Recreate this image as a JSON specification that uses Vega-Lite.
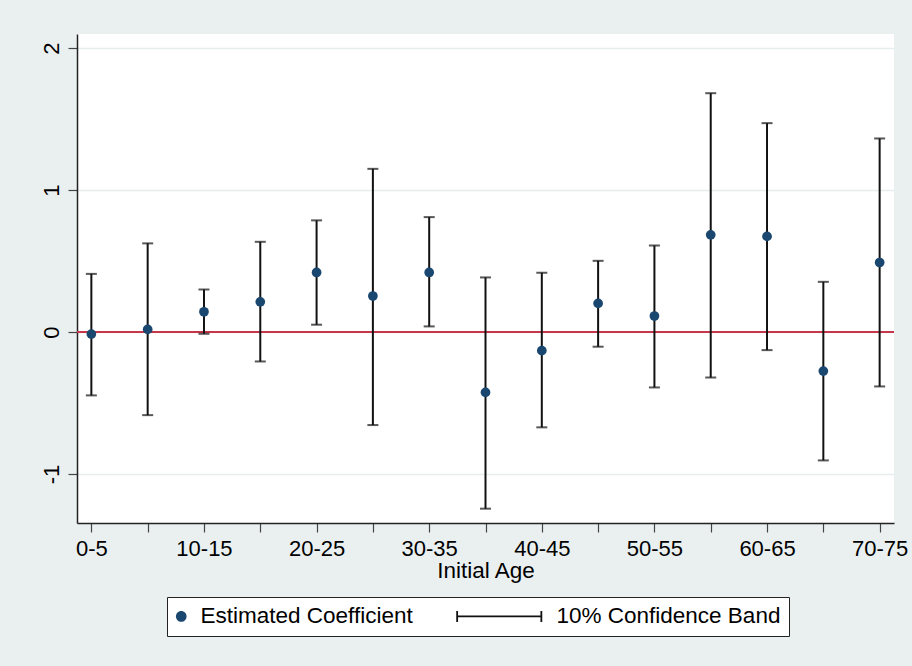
{
  "$schema": "https://vega.github.io/schema/vega-lite/v6.json",
  "width": 817,
  "height": 489,
  "autosize": {"type": "none"},
  "padding": {"left": 77, "top": 34, "right": 18, "bottom": 143},
  "background": "#EAF0F0",
  "config": {
    "view": {"fill": "white", "stroke": null},
    "font": "Liberation Sans"
  },
  "data": {
    "values": [
      {"age": "0-5", "est": -0.014, "lo": -0.446, "hi": 0.41},
      {"age": "5-10", "est": 0.019, "lo": -0.585, "hi": 0.625},
      {"age": "10-15", "est": 0.143, "lo": -0.012, "hi": 0.3},
      {"age": "15-20", "est": 0.213, "lo": -0.207, "hi": 0.636},
      {"age": "20-25", "est": 0.42, "lo": 0.052, "hi": 0.787},
      {"age": "25-30", "est": 0.254, "lo": -0.655, "hi": 1.15},
      {"age": "30-35", "est": 0.42, "lo": 0.04, "hi": 0.81},
      {"age": "35-40", "est": -0.425, "lo": -1.244, "hi": 0.385},
      {"age": "40-45", "est": -0.131, "lo": -0.671, "hi": 0.418},
      {"age": "45-50", "est": 0.202, "lo": -0.103, "hi": 0.502},
      {"age": "50-55", "est": 0.113, "lo": -0.39, "hi": 0.61},
      {"age": "55-60", "est": 0.685, "lo": -0.32, "hi": 1.683},
      {"age": "60-65", "est": 0.674, "lo": -0.127, "hi": 1.472},
      {"age": "65-70", "est": -0.275, "lo": -0.904, "hi": 0.354},
      {"age": "70-75", "est": 0.49, "lo": -0.383, "hi": 1.364}
    ]
  },
  "layer": [
    {
      "mark": {"type": "rule", "color": "#C8364B", "strokeWidth": 2},
      "encoding": {
        "y": {
          "datum": 0, "type": "quantitative",
          "scale": {"domain": [-1.345, 2.1], "nice": false, "zero": false},
          "axis": {
            "title": null, "values": [-1, 0, 1, 2], "grid": true,
            "labelExpr": "'' + datum.value",
            "gridColor": "#E6EDED", "gridWidth": 1.5,
            "domainColor": "#222", "domainWidth": 1.5,
            "tickColor": "#444", "tickSize": 9, "tickWidth": 1.2,
            "labelAngle": -90, "labelAlign": "center", "labelBaseline": "alphabetic",
            "labelFontSize": 22, "labelPadding": 10, "labelColor": "#000"
          }
        }
      }
    },
    {
      "mark": {"type": "rule", "color": "#111", "strokeWidth": 2},
      "encoding": {
        "x": {
          "field": "age", "type": "ordinal", "sort": null,
          "scale": {"type": "point", "padding": 0.255},
          "axis": {
            "title": "Initial Age", "labelAngle": 0,
            "labelExpr": "indexof(['0-5','10-15','20-25','30-35','40-45','50-55','60-65','70-75'], datum.value) >= 0 ? datum.value : ''",
            "tickSize": 9, "tickColor": "#444", "tickWidth": 1.2,
            "domainColor": "#222", "domainWidth": 1.5, "grid": false,
            "labelFontSize": 22, "labelColor": "#000", "labelPadding": 6,
            "titleFontSize": 22.5, "titleFontWeight": "normal", "titleColor": "#000", "titlePadding": 0
          }
        },
        "y": {"field": "lo", "type": "quantitative"},
        "y2": {"field": "hi"}
      }
    },
    {
      "mark": {"type": "tick", "color": "#111", "size": 11, "thickness": 2},
      "encoding": {
        "x": {"field": "age", "type": "ordinal", "sort": null},
        "y": {"field": "hi", "type": "quantitative"}
      }
    },
    {
      "mark": {"type": "tick", "color": "#111", "size": 11, "thickness": 2},
      "encoding": {
        "x": {"field": "age", "type": "ordinal", "sort": null},
        "y": {"field": "lo", "type": "quantitative"}
      }
    },
    {
      "mark": {"type": "point", "filled": true, "color": "#1A476F", "size": 95, "opacity": 1, "shape": "circle"},
      "encoding": {
        "x": {"field": "age", "type": "ordinal", "sort": null},
        "y": {"field": "est", "type": "quantitative"}
      }
    },
    {
      "mark": {"type": "point", "filled": true, "opacity": 0},
      "encoding": {
        "x": {"field": "age", "type": "ordinal", "sort": null},
        "y": {"field": "est", "type": "quantitative"},
        "color": {
          "datum": "Estimated Coefficient", "type": "nominal",
          "scale": {
            "domain": ["Estimated Coefficient", "10% Confidence Band"],
            "range": ["#1A476F", "#111111"]
          },
          "legend": {"title": null}
        },
        "shape": {
          "datum": "Estimated Coefficient", "type": "nominal",
          "scale": {
            "domain": ["Estimated Coefficient", "10% Confidence Band"],
            "range": [
              "M-5.15,0A2.65,2.65,0,1,1,0.15,0A2.65,2.65,0,1,1,-5.15,0Z",
              "M-43,-0.45H0V0.45H-43Z M-43,-2.75H-42.1V2.75H-43Z M-0.9,-2.75H0V2.75H-0.9Z"
            ]
          },
          "legend": {
            "title": null, "orient": "none", "legendX": 90, "legendY": 563,
            "direction": "horizontal", "symbolSize": 16, "symbolStrokeWidth": 0,
            "labelFontSize": 22.5, "labelColor": "#000", "labelOffset": 3, "labelLimit": 400,
            "columnPadding": 43, "padding": 8, "strokeColor": "#222", "fillColor": "white",
            "symbolOpacity": 1
          }
        }
      }
    }
  ]
}
